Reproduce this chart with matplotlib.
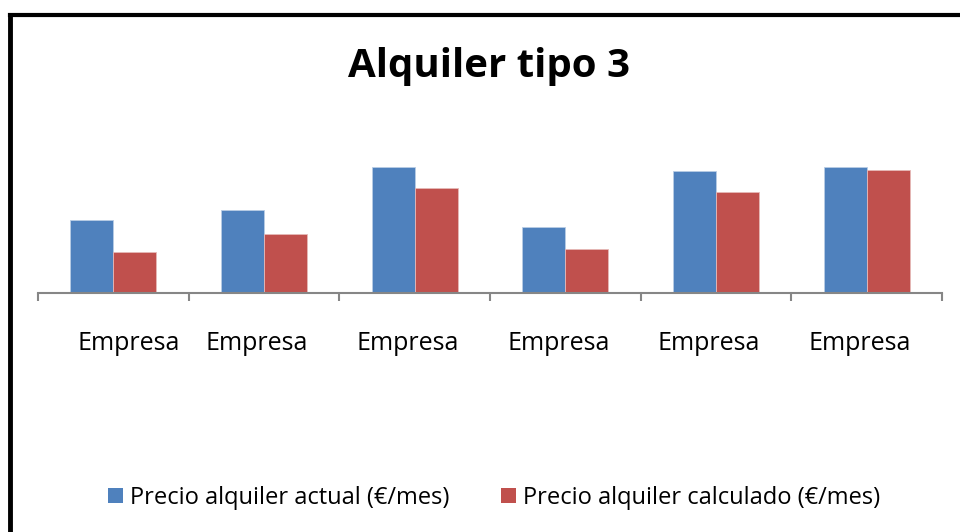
import numpy as np
import matplotlib.pyplot as plt
from matplotlib.lines import Line2D
from matplotlib.patches import Patch
from matplotlib.transforms import ScaledTranslation

plt.rcParams['font.family'] = ['Open Sans', 'DejaVu Sans']

categories = ["Empresa", "Empresa", "Empresa", "Empresa", "Empresa", "Empresa"]
actual = [73, 83, 126, 66, 122, 126]
calculado = [41, 59, 105, 44, 101, 123]
series_names = ["Precio alquiler actual (€/mes)", "Precio alquiler calculado (€/mes)"]

BLUE = "#4F81BD"
RED = "#C0504D"
AXIS = "#868686"

W, H = 960, 532
fig = plt.figure(figsize=(W / 100, H / 100), dpi=100)
fig.patch.set_facecolor("white")

# plot area in pixels: x 38..942, baseline at y=293, top at y=120
ax = fig.add_axes([38 / W, (H - 293) / H, (942 - 38) / W, (293 - 120) / H])
x = np.arange(len(categories))
bw = 0.285
ax.bar(x - bw / 2, actual, bw, color=BLUE, edgecolor="#B9CDE5", linewidth=0.6)
ax.bar(x + bw / 2, calculado, bw, color=RED, edgecolor="#E6B9B8", linewidth=0.6)

ax.set_xlim(-0.5, len(categories) - 0.5)
ax.set_ylim(0, 173)
for s in ["top", "right", "left"]:
    ax.spines[s].set_visible(False)
ax.spines["bottom"].set_color(AXIS)
ax.spines["bottom"].set_linewidth(1.5)
ax.set_yticks([])

ax.set_xticks(x)
ax.set_xticklabels(categories, fontsize=18)
ax.tick_params(axis="x", which="major", length=0, pad=27)
ax.set_xticks(np.arange(-0.5, len(categories)), minor=True)
ax.tick_params(axis="x", which="minor", length=6, width=1.5, color=AXIS, direction="out")

# Excel nudges the labels: first one pushed inwards, the rest a bit left
for i, lab in enumerate(ax.get_xticklabels()):
    dx = 15 if i == 0 else -7
    lab.set_transform(lab.get_transform() + ScaledTranslation(dx / 100, 0, fig.dpi_scale_trans))

fig.text(489 / W, 1 - 67 / H, "Alquiler tipo 3", fontsize=29, fontweight="bold",
         ha="center", va="center")

handles = [Patch(facecolor=BLUE), Patch(facecolor=RED)]
fig.legend(handles, series_names, loc="center", bbox_to_anchor=(494 / W, 1 - 498 / H),
           ncol=2, frameon=False, fontsize=17, handlelength=0.62, handleheight=0.62,
           handletextpad=0.3, columnspacing=2.2, borderpad=0, borderaxespad=0)

# thick chart border (top and left visible)
fig.add_artist(Line2D([10 / W, 1.01], [1 - 15 / H, 1 - 15 / H], color="black", lw=3,
                      transform=fig.transFigure))
fig.add_artist(Line2D([10 / W, 10 / W], [-0.01, 1 - 15 / H], color="black", lw=3.5,
                      transform=fig.transFigure))

fig.savefig("out.png", dpi=100)
